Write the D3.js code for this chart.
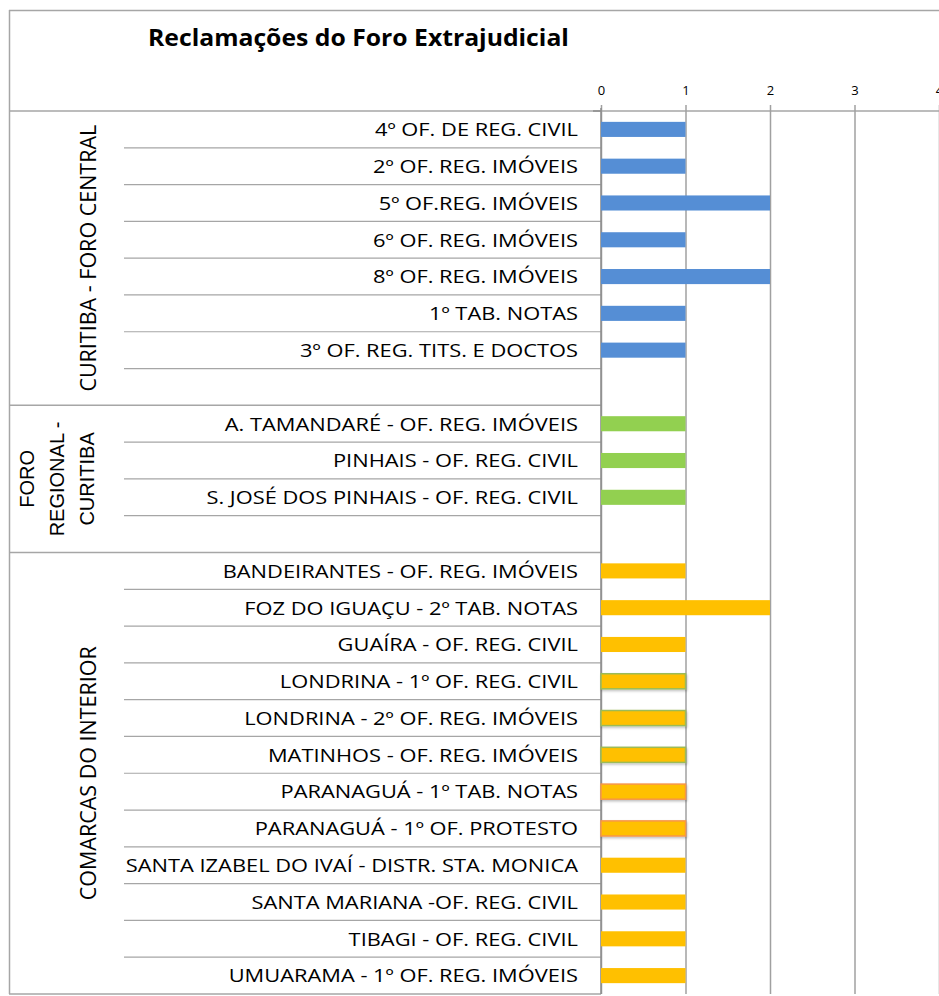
<!DOCTYPE html>
<html>
<head>
<meta charset="utf-8">
<script src="https://cdn.jsdelivr.net/npm/d3@7/dist/d3.min.js"></script>
<style>
  html, body { margin: 0; padding: 0; background: #fff; }
  svg { display: block; }
  text { font-family: "Open Sans", "Noto Sans", sans-serif; fill: #000; }
</style>
</head>
<body>
<svg id="chart" width="939" height="996"></svg>
<script>
// ---------------- DATA ----------------
const chartTitle = "Reclamações do Foro Extrajudicial";

const groupNames = ["CURITIBA - FORO CENTRAL", "FORO REGIONAL - CURITIBA", "COMARCAS DO INTERIOR"];
const groupLabelLines = [["CURITIBA - FORO CENTRAL"], ["FORO", "REGIONAL -", "CURITIBA"], ["COMARCAS DO INTERIOR"]];

const centralCategories = [
  "4º OF. DE REG. CIVIL",
  "2º OF. REG. IMÓVEIS",
  "5º OF.REG. IMÓVEIS",
  "6º OF. REG. IMÓVEIS",
  "8º OF. REG. IMÓVEIS",
  "1º TAB. NOTAS",
  "3º OF. REG. TITS. E DOCTOS",
  ""
];
const centralValues = [1, 1, 2, 1, 2, 1, 1, null];

const regionalCategories = [
  "A. TAMANDARÉ - OF. REG. IMÓVEIS",
  "PINHAIS - OF. REG. CIVIL",
  "S. JOSÉ DOS PINHAIS - OF. REG. CIVIL",
  ""
];
const regionalValues = [1, 1, 1, null];

const interiorCategories = [
  "BANDEIRANTES - OF. REG. IMÓVEIS",
  "FOZ DO IGUAÇU - 2º TAB. NOTAS",
  "GUAÍRA - OF. REG. CIVIL",
  "LONDRINA - 1º OF. REG. CIVIL",
  "LONDRINA - 2º OF. REG. IMÓVEIS",
  "MATINHOS - OF. REG. IMÓVEIS",
  "PARANAGUÁ - 1º TAB. NOTAS",
  "PARANAGUÁ - 1º OF. PROTESTO",
  "SANTA IZABEL DO IVAÍ - DISTR. STA. MONICA",
  "SANTA MARIANA -OF. REG. CIVIL",
  "TIBAGI - OF. REG. CIVIL",
  "UMUARAMA - 1º OF. REG. IMÓVEIS"
];
const interiorValues = [1, 2, 1, 1, 1, 1, 1, 1, 1, 1, 1, 1];

const xTickValues = [0, 1, 2, 3, 4];

// ---------------- STYLE ----------------
const groupColors = ["#558ED5", "#92D050", "#FFC000"];
// outline colour per interior bar (null = none)
const interiorOutlines = [null, null, null, "#9BBB59", "#9BBB59", "#9BBB59", "#F79646", "#F79646", null, null, null, null];

// ---------------- BUILD ROWS ----------------
const groupsData = [
  { cats: centralCategories, vals: centralValues, outlines: centralCategories.map(() => null) },
  { cats: regionalCategories, vals: regionalValues, outlines: regionalCategories.map(() => null) },
  { cats: interiorCategories, vals: interiorValues, outlines: interiorOutlines }
];
const rows = [];
groupsData.forEach((g, gi) => {
  g.cats.forEach((c, i) => {
    rows.push({ id: gi + "-" + i, group: gi, label: c, value: g.vals[i], outline: g.outlines[i], first: i === 0, last: i === g.cats.length - 1 });
  });
});

// ---------------- LAYOUT ----------------
const svg = d3.select("#chart");
const frameLeft = 9, frameTop = 10, headerLine = 111, plotBottom = 994;
const axisX0 = 601, axisX1 = 939;
const sepLeft = 124;

const x = d3.scaleLinear().domain([0, 4]).range([axisX0, axisX1]);
const y = d3.scaleBand().domain(rows.map(r => r.id)).range([headerLine, plotBottom]).paddingInner(0).paddingOuter(0);
const bw = y.bandwidth();
const barH = bw * 0.41;

const lineColor = "#A6A6A6";

// frame
svg.append("line").attr("x1", frameLeft).attr("x2", 939).attr("y1", frameTop + 0.5).attr("y2", frameTop + 0.5)
  .attr("stroke", lineColor).attr("stroke-width", 1.5);
svg.append("line").attr("x1", frameLeft + 0.5).attr("x2", frameLeft + 0.5).attr("y1", frameTop).attr("y2", plotBottom)
  .attr("stroke", lineColor).attr("stroke-width", 1.5);
svg.append("line").attr("x1", frameLeft).attr("x2", 939).attr("y1", headerLine).attr("y2", headerLine)
  .attr("stroke", lineColor).attr("stroke-width", 1.5);

// title
svg.append("text").attr("transform", "translate(148,46) scale(1.1,1)")
  .style("font-weight", "700").style("font-size", "22.5px")
  .text(chartTitle);

// gridlines
const grid = svg.append("g").attr("transform", `translate(0,${headerLine - 6})`)
  .call(d3.axisBottom(x).tickValues(xTickValues).tickSize(plotBottom - headerLine + 6).tickFormat(""));
grid.select(".domain").remove();
grid.selectAll(".tick line").attr("stroke", "#A0A0A0").attr("stroke-width", 1.5);

// tick labels
const axisTop = svg.append("g").attr("transform", `translate(0,${headerLine})`)
  .call(d3.axisTop(x).tickValues(xTickValues).tickSize(0).tickPadding(16).tickFormat(d3.format("d")));
axisTop.select(".domain").remove();
axisTop.selectAll("text").style("font-family", "'Open Sans', sans-serif").style("font-size", "13px").attr("fill", "#000");

// row separators
svg.append("g").selectAll("line").data(rows.filter(r => !r.last)).join("line")
  .attr("x1", sepLeft).attr("x2", axisX0)
  .attr("y1", r => y(r.id) + bw).attr("y2", r => y(r.id) + bw)
  .attr("stroke", lineColor).attr("stroke-width", 1.2);

// group separators
svg.append("g").selectAll("line").data(rows.filter(r => r.last)).join("line")
  .attr("x1", frameLeft).attr("x2", axisX0)
  .attr("y1", r => y(r.id) + bw).attr("y2", r => y(r.id) + bw)
  .attr("stroke", lineColor).attr("stroke-width", 1.5);

// category axis line with top tick
svg.append("line").attr("x1", axisX0).attr("x2", axisX0).attr("y1", headerLine - 3).attr("y2", plotBottom)
  .attr("stroke", "#8C8C8C").attr("stroke-width", 1.5);
svg.append("line").attr("x1", axisX0 - 8).attr("x2", axisX0).attr("y1", headerLine).attr("y2", headerLine)
  .attr("stroke", "#8C8C8C").attr("stroke-width", 1.5);

// category labels
const labelScale = 1.15;
svg.append("g").selectAll("text").data(rows.filter(r => r.label)).join("text")
  .attr("transform", r => `translate(578,${y(r.id) + bw / 2}) scale(${labelScale},1)`)
  .attr("text-anchor", "end").attr("dy", "0.36em")
  .style("font-size", "19px")
  .text(r => r.label);

// bars
const shadow = svg.append("defs").append("filter").attr("id", "sh").attr("x", "-10%").attr("y", "-50%").attr("width", "130%").attr("height", "200%");
shadow.append("feDropShadow").attr("dx", 1).attr("dy", 1.5).attr("stdDeviation", 1).attr("flood-color", "#000").attr("flood-opacity", 0.25);

svg.append("g").selectAll("rect").data(rows.filter(r => r.value != null)).join("rect")
  .attr("x", x(0))
  .attr("y", r => y(r.id) + (bw - barH) / 2)
  .attr("width", r => x(r.value) - x(0))
  .attr("height", barH)
  .attr("fill", r => groupColors[r.group])
  .attr("stroke", r => r.outline || "none")
  .attr("stroke-width", r => r.outline ? 1.5 : 0)
  .attr("filter", r => r.outline ? "url(#sh)" : null);

// group labels (rotated)
const groupSpans = groupNames.map((g, gi) => {
  const gr = rows.filter(r => r.group === gi);
  return { name: g, lines: groupLabelLines[gi], y0: y(gr[0].id), y1: y(gr[gr.length - 1].id) + bw, gi };
});
groupSpans.forEach(s => {
  const cy = (s.y0 + s.y1) / 2;
  const t = svg.append("text")
    .attr("transform", `translate(${s.gi === 1 ? 57 : 88},${cy}) rotate(-90)`)
    .attr("text-anchor", "middle")
    .style("font-family", s.gi === 1 ? "'Liberation Sans', Arial, sans-serif" : "'Open Sans', sans-serif")
    .style("font-size", s.gi === 1 ? "20px" : "21.5px");
  const n = s.lines.length;
  s.lines.forEach((ln, i) => {
    t.append("tspan").attr("x", 0).attr("y", (i - (n - 1) / 2) * 30).attr("dy", "0.36em").text(ln);
  });
});
</script>
</body>
</html>
